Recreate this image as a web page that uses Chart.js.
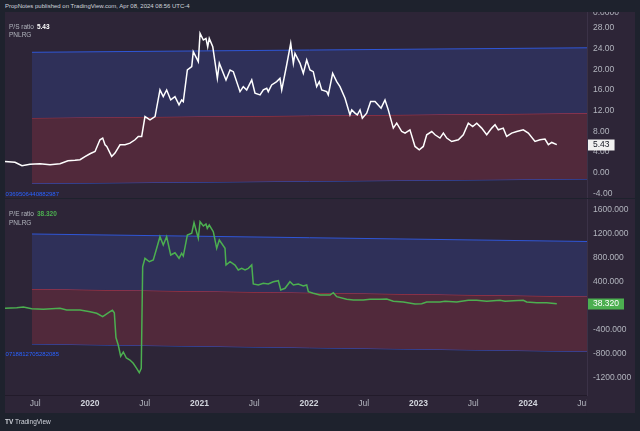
<!DOCTYPE html>
<html><head><meta charset="utf-8">
<script src="https://cdn.jsdelivr.net/npm/chart.js@4/dist/chart.umd.min.js"></script>
<style>
html,body{margin:0;padding:0;background:#1e222d;width:640px;height:431px;overflow:hidden;font-family:"Liberation Sans",Arial,sans-serif;}
.abs{position:absolute;white-space:nowrap;}
#hdr{left:5px;top:2px;font-size:6px;color:#d1d4dc;line-height:8px;}
#w1{position:absolute;left:5px;top:12px;width:630px;height:186px;}
#w2{position:absolute;left:5px;top:199px;width:630px;height:214px;}
.leg{font-size:6.5px;line-height:8px;color:#b2b5be;}
.leg b{font-weight:bold;margin-left:3px;}
.clip{position:absolute;left:5px;width:120px;height:10px;overflow:hidden;}
.blue{position:absolute;right:66px;top:0;font-size:6px;line-height:10px;color:#2962ff;white-space:nowrap;}
#logo{left:5px;top:418px;font-size:6.5px;color:#d1d4dc;line-height:8px;}
</style></head>
<body>
<div class="abs" id="hdr">PropNotes published on TradingView.com, Apr 08, 2024 08:56 UTC-4</div>
<div id="w1"><canvas id="c1" width="630" height="186"></canvas></div>
<div id="w2"><canvas id="c2" width="630" height="214"></canvas></div>
<div class="abs leg" style="left:9px;top:23px;">P/S ratio<b style="color:#ffffff">5.43</b></div>
<div class="abs leg" style="left:9px;top:31px;">PNLRG</div>
<div class="abs leg" style="left:9px;top:210px;">P/E ratio<b style="color:#4caf50">38.320</b></div>
<div class="abs leg" style="left:9px;top:219px;">PNLRG</div>
<div class="clip" style="top:189px;"><div class="blue">-0.0369506440882987</div></div>
<div class="clip" style="top:349px;"><div class="blue">-0.0718812705282085</div></div>
<div class="abs" id="logo"><b>TV</b> TradingView</div>
<script>
// ---- data ----
const psYears = [2019.224,2019.315,2019.379,2019.452,2019.543,2019.635,2019.726,2019.799,2019.863,2019.909,2019.954,2020.000,2020.046,2020.091,2020.116,2020.137,2020.153,2020.198,2020.228,2020.274,2020.320,2020.365,2020.411,2020.441,2020.472,2020.502,2020.548,2020.594,2020.639,2020.669,2020.700,2020.737,2020.776,2020.813,2020.837,2020.852,2020.889,2020.929,2020.943,2020.989,2021.005,2021.035,2021.059,2021.075,2021.089,2021.121,2021.163,2021.181,2021.242,2021.279,2021.309,2021.370,2021.400,2021.431,2021.477,2021.507,2021.553,2021.583,2021.614,2021.628,2021.659,2021.705,2021.735,2021.751,2021.796,2021.833,2021.857,2021.872,2021.918,2021.948,2021.979,2022.009,2022.039,2022.070,2022.094,2022.116,2022.162,2022.176,2022.216,2022.253,2022.283,2022.329,2022.374,2022.390,2022.420,2022.441,2022.466,2022.487,2022.527,2022.563,2022.603,2022.658,2022.694,2022.724,2022.770,2022.801,2022.847,2022.877,2022.922,2022.968,2023.007,2023.044,2023.075,2023.121,2023.151,2023.196,2023.227,2023.258,2023.303,2023.364,2023.409,2023.455,2023.495,2023.532,2023.577,2023.623,2023.669,2023.699,2023.729,2023.774,2023.805,2023.851,2023.897,2023.957,2024.003,2024.064,2024.110,2024.155,2024.186,2024.217,2024.263];
const psValues = [2.18,2.03,1.35,1.64,1.74,1.54,1.74,2.32,2.41,2.51,3.09,3.67,4.11,6.37,6.70,5.41,5.10,3.15,3.80,5.41,5.41,5.73,6.37,7.01,7.01,10.87,10.23,10.87,16.02,14.73,16.02,14.09,14.73,13.13,14.09,13.76,19.88,20.52,23.42,21.49,26.97,25.68,26.00,24.38,26.00,24.38,18.28,21.18,17.95,19.88,19.56,15.69,16.66,16.02,17.95,15.39,15.06,16.02,16.35,15.69,16.99,17.63,18.28,16.02,20.85,25.04,21.18,23.11,21.18,19.25,21.81,19.88,19.56,16.66,17.63,16.02,15.69,15.06,19.25,17.63,16.66,14.42,11.20,12.16,11.53,11.20,12.16,10.56,11.53,13.76,13.76,12.49,14.09,12.16,8.63,9.59,7.97,7.66,8.30,5.08,4.44,5.08,7.34,7.97,7.34,6.70,7.66,6.70,6.04,6.37,7.34,9.59,8.94,9.59,8.63,7.34,8.63,9.27,8.30,8.63,7.01,7.66,7.97,8.30,7.66,6.04,6.37,6.51,5.41,5.85,5.43];

const peYears = [2019.224,2019.331,2019.391,2019.468,2019.574,2019.726,2019.787,2019.909,2020.000,2020.061,2020.116,2020.146,2020.183,2020.205,2020.222,2020.237,2020.258,2020.280,2020.304,2020.332,2020.365,2020.395,2020.426,2020.450,2020.468,2020.481,2020.502,2020.542,2020.578,2020.609,2020.639,2020.669,2020.700,2020.737,2020.776,2020.813,2020.837,2020.852,2020.889,2020.929,2020.950,2020.989,2021.005,2021.035,2021.059,2021.071,2021.089,2021.126,2021.157,2021.181,2021.233,2021.242,2021.279,2021.324,2021.354,2021.385,2021.416,2021.446,2021.477,2021.491,2021.537,2021.583,2021.628,2021.674,2021.720,2021.742,2021.781,2021.826,2021.857,2021.902,2021.948,2021.979,2021.994,2022.039,2022.100,2022.192,2022.222,2022.253,2022.344,2022.405,2022.496,2022.557,2022.648,2022.710,2022.770,2022.861,2022.968,2023.029,2023.075,2023.196,2023.242,2023.349,2023.455,2023.532,2023.623,2023.684,2023.744,2023.790,2023.866,2023.957,2023.988,2024.079,2024.171,2024.263];
const peValues = [-38,-28,-17,-45,-55,-38,-67,-67,-95,-122,-178,-138,-95,-72,-112,-525,-650,-838,-767,-867,-900,-955,-1038,-1112,-1038,655,795,738,767,962,1155,1017,1155,850,888,795,878,833,1183,1212,1388,1128,1405,1333,1367,1295,1350,1238,962,1100,962,683,738,683,600,628,600,628,683,367,350,378,367,405,422,267,295,405,350,367,333,350,238,212,183,183,222,155,112,100,100,112,113,117,80,67,33,38,67,67,78,67,95,95,78,88,95,78,88,95,67,55,55,38.32];

// regression channels (start / end)
const chanYears = [2019.470, 2024.539];
const psUpper = [23.31, 24.18];
const psMid   = [10.61, 11.50];
const psLower = [-2.09, -1.22];
const peUpper = [1200, 1075];
const peMid   = [283, 158];
const peLower = [-633, -758];

// ticks
const xTickValues = [2019.5,2020,2020.5,2021,2021.5,2022,2022.5,2023,2023.5,2024,2024.5];
const xTickLabels = ['Jul','2020','Jul','2021','Jul','2022','Jul','2023','Jul','2024','Jul'];
const psTickValues = [30.91,28,24,20,16,12,8,4,0,-4];
const psTickLabels = ['0.0000','28.00','24.00','20.00','16.00','12.00','8.00','4.00','0.00','-4.00'];
const peTickValues = [1600,1200,800,400,0,-400,-800,-1200];
const peTickLabels = ['1600.000','1200.000','800.000','400.000','0.000','-400.000','-800.000','-1200.000'];

const psLast = 5.43, peLast = 38.32;
const xMin = 2019.2237, xMax = 2024.5388;

// ---- styles ----
const BG = '#2d2537', BLUEBAND = '#2f3059', REDBAND = '#51293b';
const BLUELINE = '#2f56d6', REDLINE = '#c2384c';
const TICK = '#b2b5be';
const FONT = '"Liberation Sans", Arial, sans-serif';

const pts = (xs, ys) => xs.map((x,i)=>({x, y: ys[i]}));

const bgPlugin = {id:'bg', beforeDraw(c){const g=c.ctx; g.save(); g.fillStyle=BG; g.fillRect(0,0,c.width,c.height); g.restore();}};

function boxPlugin(val, text, fill, color){
  return {id:'valbox', afterDraw(c){
    const g=c.ctx, y=c.scales.y.getPixelForValue(val), x=c.chartArea.right;
    g.save();
    g.font='8.5px ' + FONT;
    const w=g.measureText(text).width+10;
    g.fillStyle=fill; g.fillRect(x+1, Math.round(y)-5.5, w, 11);
    g.fillStyle=color; g.textBaseline='middle'; g.textAlign='left';
    g.fillText(text, x+6, Math.round(y));
    g.restore();
  }};
}

function channelSets(up, mid, lo){
  return [
    {data:pts(chanYears, up), borderColor:BLUELINE, borderWidth:1, pointRadius:0, fill:'+1', backgroundColor:BLUEBAND},
    {data:pts(chanYears, mid), borderColor:REDLINE, borderWidth:1, pointRadius:0, fill:'+1', backgroundColor:REDBAND},
    {data:pts(chanYears, lo), borderColor:BLUELINE, borderWidth:1, pointRadius:0, fill:false}
  ];
}

function yAxis(min, max, vals, labels){
  return {
    type:'linear', position:'right', min, max,
    afterBuildTicks: s => { s.ticks = vals.map(v=>({value:v})); },
    afterFit: s => { s.width = 48; s.paddingTop = 0; s.paddingBottom = 0; },
    grid:{display:false, drawTicks:false},
    border:{display:true, color:'#3b3247'},
    ticks:{autoSkip:false, padding:6, color:TICK, font:{size:8.5, family:FONT},
      callback:(v,i)=>labels[i]}
  };
}

const common = {
  responsive:false, animation:false, events:[],
  layout:{padding:0},
  plugins:{legend:{display:false}, tooltip:{enabled:false}},
  elements:{line:{tension:0}}
};

new Chart(document.getElementById('c1'), {
  type:'line',
  data:{datasets:[
    {data:pts(psYears, psValues), borderColor:'#ffffff', borderWidth:1.5, pointRadius:0, fill:false},
    ...channelSets(psUpper, psMid, psLower)
  ]},
  options:{...common,
    scales:{
      x:{type:'linear', min:xMin, max:xMax, display:false},
      y:yAxis(-4.90, 31.11, psTickValues, psTickLabels)
    }
  },
  plugins:[bgPlugin, boxPlugin(psLast, '5.43', '#f0f0f0', '#131722')]
});

new Chart(document.getElementById('c2'), {
  type:'line',
  data:{datasets:[
    {data:pts(peYears, peValues), borderColor:'#4caf50', borderWidth:1.5, pointRadius:0, fill:false},
    ...channelSets(peUpper, peMid, peLower)
  ]},
  options:{...common,
    scales:{
      x:{type:'linear', min:xMin, max:xMax, position:'bottom',
        afterBuildTicks: s => { s.ticks = xTickValues.map(v=>({value:v})); },
        afterFit: s => { s.height = 18; s.paddingLeft = 0; s.paddingRight = 0; },
        grid:{display:false, drawTicks:false},
        border:{display:true, color:'#221b2a'},
        ticks:{autoSkip:false, maxRotation:0, padding:4,
          color: ctx => (xTickLabels[ctx.index]==='Jul' ? TICK : '#d1d4dc'),
          font: ctx => ({size:8.5, family:FONT, weight: xTickLabels[ctx.index]==='Jul' ? 'normal' : 'bold'}),
          callback:(v,i)=>xTickLabels[i]}
      },
      y:yAxis(-1483.3, 1783.3, peTickValues, peTickLabels)
    }
  },
  plugins:[bgPlugin, boxPlugin(peLast, '38.320', '#4caf50', '#ffffff'),
    {id:'corner', afterDraw(c){const g=c.ctx; g.save(); g.fillStyle=BG; g.fillRect(c.chartArea.right-0.5, c.chartArea.bottom+1, 60, 30); g.restore();}}]
});
</script>
</body></html>
